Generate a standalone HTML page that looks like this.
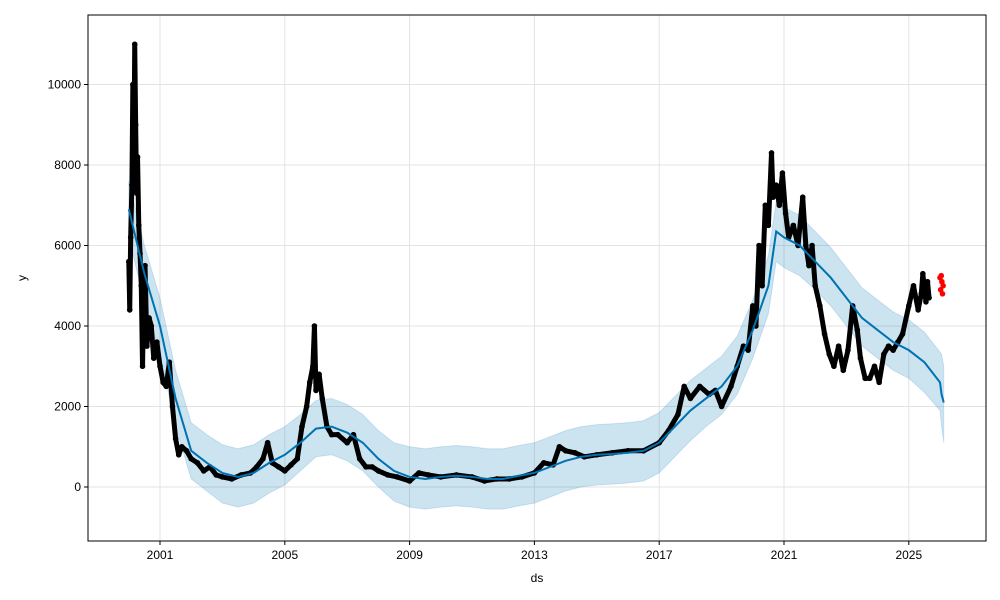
<!DOCTYPE html>
<html><head><meta charset="utf-8"><style>
html,body{margin:0;padding:0;background:#fff;overflow:hidden;font-family:"Liberation Sans",sans-serif}
svg{display:block}
svg text{font-family:"Liberation Sans",sans-serif;font-size:12px;fill:#000}
</style></head><body>
<svg id="chart" width="1000" height="600" xmlns="http://www.w3.org/2000/svg">
<rect width="1000" height="600" fill="#fff"/>
<g id="grid"></g><g id="band"></g><g id="obs"></g><g id="line"></g><g id="fut"></g><g id="axes"></g>
</svg>
<script>
const fcYears=[2000.0,2000.5,2001.0,2001.5,2002.0,2002.5,2003.0,2003.5,2004.0,2004.5,2005.0,2005.5,2006.0,2006.5,2007.0,2007.5,2008.0,2008.5,2009.0,2009.5,2010.0,2010.5,2011.0,2011.5,2012.0,2012.5,2013.0,2013.5,2014.0,2014.5,2015.0,2015.5,2016.0,2016.5,2017.0,2017.5,2018.0,2018.5,2019.0,2019.5,2020.0,2020.5,2020.75,2021.0,2021.5,2022.0,2022.5,2023.0,2023.5,2024.0,2024.5,2025.0,2025.5,2026.0,2026.05,2026.12];
const yhat=[6900,5300,4000,2200,900,600,350,250,350,600,800,1100,1450,1500,1350,1100,700,400,250,200,250,280,250,200,200,280,350,500,650,750,800,820,850,900,1100,1500,1900,2200,2500,3000,3900,5000,6350,6200,6000,5600,5200,4700,4200,3900,3600,3400,3100,2600,2300,2100];
const yLower=[6200,4600,3300,1500,200,-100,-400,-500,-400,-150,50,400,750,800,650,400,0,-350,-500,-550,-500,-470,-500,-550,-550,-470,-400,-250,-100,0,50,70,100,150,350,750,1150,1500,1800,2300,3200,4300,5600,5450,5250,4900,4500,4000,3500,3200,2900,2700,2350,1900,1500,1100];
const yUpper=[7600,6000,4700,2900,1600,1300,1050,950,1050,1300,1500,1800,2150,2200,2050,1800,1400,1100,1000,950,1000,1030,1000,950,950,1030,1100,1250,1400,1500,1550,1570,1600,1650,1850,2250,2650,2950,3250,3750,4650,5750,7100,6950,6750,6350,5950,5450,4950,4650,4350,4150,3850,3350,3300,3000];
const obsYears=[
2000.0,2000.03,2000.06,2000.1,2000.13,2000.16,2000.19,2000.22,2000.25,2000.28,
2000.32,2000.36,2000.4,2000.44,2000.48,2000.52,2000.58,2000.65,2000.72,2000.8,
2000.9,2001.0,2001.1,2001.2,2001.3,2001.4,2001.5,2001.6,2001.7,2001.85,
2002.0,2002.2,2002.4,2002.6,2002.8,2003.0,2003.3,2003.6,2003.9,2004.1,
2004.3,2004.45,2004.6,2004.8,2005.0,2005.2,2005.4,2005.55,2005.7,2005.8,
2005.9,2005.95,2006.0,2006.1,2006.2,2006.35,2006.5,2006.7,2007.0,2007.2,
2007.4,2007.6,2007.8,2008.0,2008.3,2008.6,2009.0,2009.3,2009.6,2010.0,
2010.5,2011.0,2011.4,2011.8,2012.2,2012.6,2013.0,2013.3,2013.6,2013.8,
2014.0,2014.3,2014.6,2015.0,2015.5,2016.0,2016.5,2017.0,2017.3,2017.6,
2017.8,2018.0,2018.3,2018.6,2018.8,2019.0,2019.3,2019.5,2019.7,2019.85,
2020.0,2020.1,2020.2,2020.3,2020.4,2020.5,2020.6,2020.65,2020.75,2020.85,
2020.95,2021.05,2021.15,2021.3,2021.45,2021.6,2021.7,2021.8,2021.9,2022.0,
2022.15,2022.3,2022.45,2022.6,2022.75,2022.9,2023.05,2023.2,2023.35,2023.45,
2023.6,2023.75,2023.9,2024.05,2024.2,2024.35,2024.5,2024.65,2024.8,2025.0,
2025.15,2025.3,2025.4,2025.45,2025.5,2025.55,2025.6,2025.65];
const obsValues=[
5600,4400,6200,7500,10000,8000,11000,9000,7300,8200,
6500,5800,5000,3000,4800,5500,3500,4200,4000,3200,
3600,3000,2600,2500,3100,2000,1200,800,1000,900,
700,600,400,500,300,250,200,300,350,500,
700,1100,600,500,400,550,700,1500,2000,2600,
3000,4000,2400,2800,2200,1500,1300,1300,1100,1300,
700,500,500,400,300,250,150,350,300,250,
300,250,150,200,200,250,350,600,550,1000,
900,850,750,800,850,900,900,1100,1400,1800,
2500,2200,2500,2300,2400,2000,2500,3000,3500,3400,
4500,4000,6000,5000,7000,6500,8300,7200,7500,7000,
7800,6800,6200,6500,6000,7200,6000,5500,6000,5000,
4500,3800,3300,3000,3500,2900,3400,4500,3900,3200,
2700,2700,3000,2600,3300,3500,3400,3600,3800,4500,
5000,4400,4800,5300,4900,4600,5100,4700];
const futYears=[2026.0,2026.02,2026.04,2026.06,2026.08,2026.1];
const futValues=[5200,4900,5250,5100,4800,5000];
const xTicks=[2001,2005,2009,2013,2017,2021,2025];
const yTicks=[0,2000,4000,6000,8000,10000];

const L=88,R=986,T=15,B=541;
const X=y=>160+(y-2001)*31.2;
const Y=v=>487-v*0.04025;
const NS="http://www.w3.org/2000/svg";
function mk(tag,attrs,parent){const e=document.createElementNS(NS,tag);for(const k in attrs)e.setAttribute(k,attrs[k]);parent.appendChild(e);return e;}
const grid=document.getElementById('grid'),axes=document.getElementById('axes');
xTicks.forEach(t=>{const x=X(t);
 const g=mk('line',{x1:x,x2:x,y1:T,y2:B,stroke:'#e3e3e3','stroke-width':1},grid);
 
 
 mk('line',{x1:x,x2:x,y1:B,y2:B+4,stroke:'#000'},axes);
 const tx=mk('text',{x:x,y:B+18,'text-anchor':'middle'},axes);tx.textContent=t;
 
 
});
yTicks.forEach(t=>{const y=Y(t);
 const g=mk('line',{x1:L,x2:R,y1:y,y2:y,stroke:'#e3e3e3','stroke-width':1},grid);
 
 
 mk('line',{x1:L-4,x2:L,y1:y,y2:y,stroke:'#000'},axes);
 const tx=mk('text',{x:L-7,y:y+4,'text-anchor':'end'},axes);tx.textContent=t;
 
 
});
const fr=mk('rect',{x:L,y:T,width:R-L,height:B-T,fill:'none',stroke:'#000','stroke-width':1},axes);


const xl=mk('text',{x:(L+R)/2,y:582,'text-anchor':'middle'},axes);xl.textContent='ds';


const yl=mk('text',{x:26,y:278,'text-anchor':'middle',transform:'rotate(-90 26 278)'},axes);yl.textContent='y';


let d='';fcYears.forEach((t,i)=>{d+=(i?'L':'M')+X(t)+','+Y(yUpper[i]);});
for(let i=fcYears.length-1;i>=0;i--)d+='L'+X(fcYears[i])+','+Y(yLower[i]);
const band=mk('path',{d:d+'Z',fill:'#0072B2','fill-opacity':0.2,stroke:'#0072B2','stroke-opacity':0.15},document.getElementById('band'));


const og=document.getElementById('obs');
const n=Math.min(obsYears.length,obsValues.length);
const pts=[];for(let i=0;i<n;i++)pts.push(X(obsYears[i])+','+Y(obsValues[i]));
const op=mk('polyline',{points:pts.join(' '),fill:'none',stroke:'#000','stroke-width':5,'stroke-linejoin':'round'},og);


for(let i=0;i<n;i++){const c=mk('circle',{cx:X(obsYears[i]),cy:Y(obsValues[i]),r:2.8,fill:'#000'},og);
 
 }
const ln=mk('polyline',{points:fcYears.map((t,i)=>X(t)+','+Y(yhat[i])).join(' '),fill:'none',stroke:'#0072B2','stroke-width':2},document.getElementById('line'));


const fg=document.getElementById('fut');
futYears.forEach((t,i)=>{const c=mk('circle',{cx:X(t),cy:Y(futValues[i]),r:2.8,fill:'#ff0000'},fg);
 
 });
</script>
</body></html>
